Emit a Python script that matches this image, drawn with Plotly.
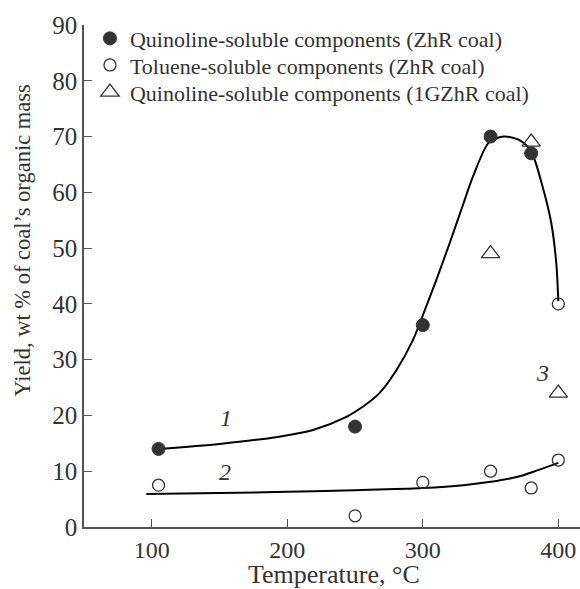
import plotly.graph_objects as go

# Data
quin_T = [105, 250, 300, 350, 380]
quin_Y = [14, 18, 36.2, 70, 67]

tol_T = [105, 250, 300, 350, 380, 400, 400]
tol_Y = [7.5, 2, 8, 10, 7, 12, 40]

quin1g_T = [350, 380, 400]
quin1g_Y = [49, 69, 24]

curve1_T = [105, 150, 194, 219, 244, 256, 268, 280.5, 292.7, 299, 310, 320, 330, 337,
            349, 360, 371, 380, 388.4, 394.8, 398.5, 400]
curve1_Y = [14, 14.9, 16.2, 17.4, 19.8, 21.6, 24.0, 28.1, 33.5, 37.3, 44.3, 51, 58, 62.8,
            69, 70, 69.4, 67.3, 61, 54.5, 47.3, 40.5]

curve2_T = [96, 150, 200, 250, 300, 330, 350, 370, 385, 400]
curve2_Y = [5.9, 6.1, 6.3, 6.6, 7.0, 7.5, 8.1, 9.0, 10.2, 11.5]

x_ticks = [100, 200, 300, 400]
y_ticks = [0, 10, 20, 30, 40, 50, 60, 70, 80, 90]

curve_labels = ["1", "2", "3"]
label_T = [155, 154, 388]
label_Y = [19.6, 9.9, 27.6]

x_title = "Temperature, °C"
y_title = "Yield, wt % of coal’s organic mass"

FONT = "Liberation Serif"
TXT = "#333333"
AX = "#555555"

fig = go.Figure()

fig.add_trace(go.Scatter(x=curve1_T, y=curve1_Y, mode="lines",
                         line=dict(color="black", width=2, shape="spline", smoothing=0.8),
                         showlegend=False, hoverinfo="skip"))
fig.add_trace(go.Scatter(x=curve2_T, y=curve2_Y, mode="lines",
                         line=dict(color="black", width=2, shape="spline", smoothing=1.0),
                         showlegend=False, hoverinfo="skip"))

fig.add_trace(go.Scatter(x=quin_T, y=quin_Y, mode="markers",
                         name="Quinoline-soluble components (ZhR coal)",
                         legend="legend",
                         marker=dict(symbol="circle", size=13, color="#333333",
                                     line=dict(color="#333333", width=1))))
fig.add_trace(go.Scatter(x=tol_T, y=tol_Y, mode="markers",
                         name="Toluene-soluble components (ZhR coal)",
                         legend="legend2",
                         marker=dict(symbol="circle-open", size=12, color="#333333",
                                     line=dict(color="#333333", width=1.3))))
fig.add_trace(go.Scatter(x=quin1g_T, y=quin1g_Y, mode="markers",
                         name="Quinoline-soluble components (1GZhR coal)",
                         legend="legend3",
                         marker=dict(symbol="triangle-up-open", size=16, color="#333333",
                                     line=dict(color="#333333", width=1.3))))

for t, x, y in zip(curve_labels, label_T, label_Y):
    fig.add_annotation(x=x, y=y, text=f"<i>{t}</i>", showarrow=False,
                       font=dict(family=FONT, size=24, color=TXT))

fig.add_annotation(x=0.505, y=-0.094, xref="paper", yref="paper", text=x_title,
                   showarrow=False, xanchor="center", yanchor="middle",
                   font=dict(family=FONT, size=26, color=TXT))
fig.add_annotation(x=-0.123, y=0.572, xref="paper", yref="paper", text=y_title,
                   showarrow=False, xanchor="center", yanchor="middle", textangle=-90,
                   font=dict(family=FONT, size=22.5, color=TXT))

def leg(y):
    return dict(x=0.012, y=y, xanchor="left", yanchor="middle",
                font=dict(family=FONT, size=22, color=TXT),
                bgcolor="rgba(0,0,0,0)", itemwidth=30)

fig.update_layout(
    width=580, height=589,
    margin=dict(l=84, r=0, t=25, b=62),
    plot_bgcolor="white", paper_bgcolor="white",
    font=dict(family=FONT, color=TXT),
    legend=leg(0.973),
    legend2=leg(0.920),
    legend3=leg(0.866),
    xaxis=dict(range=[50, 416], tickvals=x_ticks, ticktext=[str(v) for v in x_ticks],
               ticks="inside", ticklen=8, tickwidth=1.3, tickcolor=AX,
               showline=True, linecolor=AX, linewidth=1.5, showgrid=False, zeroline=False,
               tickfont=dict(family=FONT, size=24, color=TXT)),
    yaxis=dict(range=[0, 90], tickvals=y_ticks, ticktext=[str(v) for v in y_ticks],
               ticks="inside", ticklen=8, tickwidth=1.3, tickcolor=AX,
               showline=True, linecolor=AX, linewidth=1.5, showgrid=False, zeroline=False,
               tickfont=dict(family=FONT, size=25, color=TXT)),
)

fig.write_html("out.html")
